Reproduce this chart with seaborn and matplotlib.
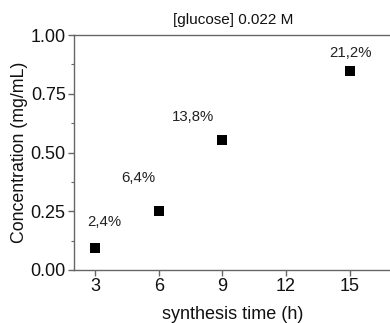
import matplotlib
matplotlib.use('Agg')
import matplotlib.pyplot as plt
from matplotlib.ticker import MultipleLocator
import pandas as pd
import seaborn as sns

# data
times = [3, 6, 9, 15]
conc = [0.095, 0.252, 0.553, 0.848]
yields = ['2,4%', '6,4%', '13,8%', '21,2%']
xticks = [3, 6, 9, 12, 15]
yticks = [0.00, 0.25, 0.50, 0.75, 1.00]

# label offsets in pixels (dx, dy) relative to each point
offsets = [(9, 26), (-20, 33), (-29, 23), (1, 18)]

sns.set_style('ticks')
plt.rcParams['font.family'] = ['Liberation Sans', 'DejaVu Sans']

df = pd.DataFrame({'time': times, 'conc': conc})

fig = plt.figure(figsize=(3.9, 3.23), dpi=100)
ax = fig.add_axes([74 / 390, 53 / 323, 318 / 390, 235 / 323])

sns.scatterplot(data=df, x='time', y='conc', marker='s', color='black',
                s=55, edgecolor='black', linewidth=0, ax=ax)

for t, c, lab, (dx, dy) in zip(times, conc, yields, offsets):
    ax.annotate(lab, (t, c), xytext=(dx, dy), textcoords='offset pixels',
                ha='center', va='center', fontsize=10.8, color='#222222')

ax.set_xlim(2, 17)
ax.set_ylim(0, 1)
ax.set_xticks(xticks)
ax.set_yticks(yticks)
ax.set_yticklabels(['%.2f' % v for v in yticks])
ax.yaxis.set_minor_locator(MultipleLocator(0.125))

ax.set_xlabel('synthesis time (h)', fontsize=13, color='#111111', labelpad=8)
ax.set_ylabel('Concentration (mg/mL)', fontsize=12.8, color='#111111', labelpad=2)
ax.set_title('[glucose] 0.022 M', fontsize=11, color='#111111', pad=8)

for side in ['left', 'bottom', 'top']:
    ax.spines[side].set_color('#666666')
    ax.spines[side].set_linewidth(1.0)
ax.spines['right'].set_visible(False)

ax.tick_params(axis='both', which='major', direction='out', length=4,
               width=1, color='#666666', labelsize=13, labelcolor='#111111', pad=2)
ax.tick_params(axis='y', which='minor', direction='out', length=2.5,
               width=0.8, color='#666666')

fig.savefig('out.png', dpi=100)
